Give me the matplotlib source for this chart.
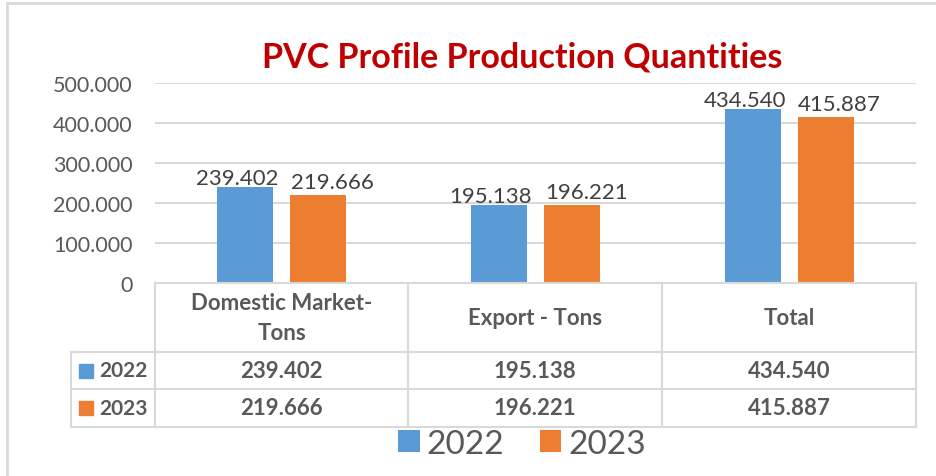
import matplotlib.pyplot as plt
from matplotlib.lines import Line2D
from matplotlib.patches import Rectangle
from matplotlib.ticker import FuncFormatter
import numpy as np

plt.rcParams['font.family'] = ['Lato', 'DejaVu Sans']

# Veriler (ton)
categories = ['Domestic Market-\nTons', 'Export - Tons', 'Total']
years = ['2022', '2023']
values_2022 = [239402, 195138, 434540]
values_2023 = [219666, 196221, 415887]
yticks = [0, 100000, 200000, 300000, 400000, 500000]

blue = '#5b9bd5'
orange = '#ed7d31'
grid_c = '#d9d9d9'
text_c = '#595959'

W, H = 936, 477


def fmt(v):
    # binlik ayırıcı olarak nokta
    return f'{int(v):,}'.replace(',', '.')


def fx(px):
    return px / W


def fy(py):
    return 1 - py / H


fig = plt.figure(figsize=(9.36, 4.77), dpi=100)

# grafik alanı
x0, x1, ytop, ybot = 155, 916, 84, 284
ax = fig.add_axes([fx(x0), fy(ybot), fx(x1 - x0), (ybot - ytop) / H])

x = np.arange(len(categories))
off = 0.144
bw = 0.22
b1 = ax.bar(x - off, values_2022, bw, color=blue, label=years[0], zorder=3)
b2 = ax.bar(x + off, values_2023, bw, color=orange, label=years[1], zorder=3)

# etiketler: Excel'deki gibi biraz iki yana kaydırılmış (px -> pt: *0.72)
for bars, vals, dx, dy in [(b1, values_2022, -8, 3), (b2, values_2023, 14, 7)]:
    for rect, v in zip(bars, vals):
        ax.annotate(fmt(v), (rect.get_x() + rect.get_width() / 2, v),
                    xytext=(dx * 0.72, dy * 0.72), textcoords='offset points',
                    ha='center', va='baseline', fontsize=16, color='#404040')

ax.set_xlim(-0.5, 2.5)
ax.set_ylim(0, 500000)
ax.set_yticks(yticks)
ax.yaxis.set_major_formatter(FuncFormatter(lambda v, p: fmt(v)))
ax.tick_params(axis='y', length=0, labelsize=15.5, labelcolor=text_c, pad=16)
ax.set_xticks([])
ax.grid(axis='y', color=grid_c, linewidth=1.5, zorder=0)
for s in ax.spines.values():
    s.set_visible(False)

# başlık
fig.text(fx(522), fy(57), 'PVC Profile Production Quantities', ha='center', va='center',
         fontsize=24.5, fontweight='bold', color='#c00000')

# veri tablosu
col_x = [155, 408, 662, 916]
row_y = [284, 353, 390, 428]
lab_x = 71
lw = 1.5


def hline(xa, xb, yy):
    fig.add_artist(Line2D([fx(xa), fx(xb)], [fy(yy), fy(yy)], color=grid_c, lw=lw))


def vline(xx, ya, yb):
    fig.add_artist(Line2D([fx(xx), fx(xx)], [fy(ya), fy(yb)], color=grid_c, lw=lw))


hline(col_x[0], col_x[-1], row_y[0])
for yy in row_y[1:]:
    hline(lab_x, col_x[-1], yy)
for xx in col_x:
    vline(xx, row_y[0], row_y[-1])
vline(lab_x, row_y[1], row_y[-1])

for i, cat in enumerate(categories):
    cx = (col_x[i] + col_x[i + 1]) / 2
    fig.text(fx(cx), fy((row_y[0] + row_y[1]) / 2), cat, ha='center', va='center',
             fontsize=16, fontweight='bold', color=text_c, linespacing=1.55)
    for r, vals in enumerate([values_2022, values_2023]):
        fig.text(fx(cx), fy((row_y[r + 1] + row_y[r + 2]) / 2), fmt(vals[i]),
                 ha='center', va='center', fontsize=16, fontweight='bold', color=text_c)

for r, (yr, c) in enumerate(zip(years, [blue, orange])):
    cy = (row_y[r + 1] + row_y[r + 2]) / 2
    fig.add_artist(Rectangle((fx(79), fy(cy + 7)), fx(14), 14 / H, color=c))
    fig.text(fx(99), fy(cy), yr, ha='left', va='center',
             fontsize=15, fontweight='bold', color=text_c)

# lejant
fig.legend(handles=[b1, b2], labels=years, loc='center', bbox_to_anchor=(fx(522), fy(445)),
           ncol=2, frameon=False, fontsize=24, labelcolor=text_c, handlelength=0.65,
           handleheight=0.65, handletextpad=0.2, columnspacing=1.05, borderpad=0)

# dış çerçeve
fig.add_artist(Line2D([fx(7), 1], [fy(4), fy(4)], color=grid_c, lw=2))
fig.add_artist(Line2D([fx(7), fx(7)], [fy(4), 0], color=grid_c, lw=2))

fig.savefig('out.png', dpi=100)
